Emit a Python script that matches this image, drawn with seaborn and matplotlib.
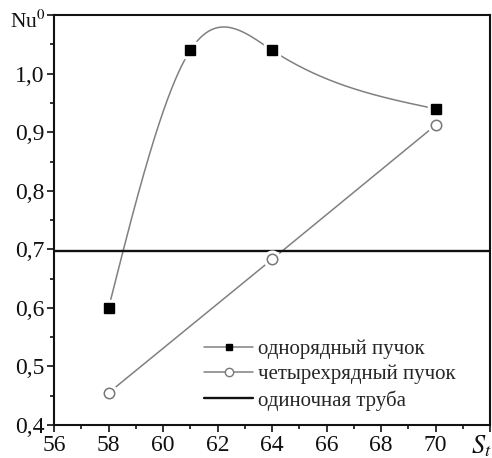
import numpy as np
import pandas as pd
import matplotlib
matplotlib.use("Agg")
import matplotlib.pyplot as plt
from matplotlib.ticker import MultipleLocator, FuncFormatter
from matplotlib.lines import Line2D
import seaborn as sns

# Data: transverse pitch S_t vs relative Nusselt number
st_single = [58, 61, 64, 70]
nu_single = [0.60, 1.04, 1.04, 0.94]
st_four = [58, 64, 70]
nu_four = [0.455, 0.683, 0.912]
nu_tube = 0.697

labels = ["однорядный пучок", "четырехрядный пучок", "одиночная труба"]


def natural_spline(x, y, xs):
    """Natural cubic spline through (x, y), evaluated at xs."""
    x = np.asarray(x, float)
    y = np.asarray(y, float)
    n = len(x)
    h = np.diff(x)
    A = np.zeros((n, n))
    b = np.zeros(n)
    A[0, 0] = A[-1, -1] = 1.0
    for i in range(1, n - 1):
        A[i, i - 1] = h[i - 1]
        A[i, i] = 2 * (h[i - 1] + h[i])
        A[i, i + 1] = h[i]
        b[i] = 6 * ((y[i + 1] - y[i]) / h[i] - (y[i] - y[i - 1]) / h[i - 1])
    M = np.linalg.solve(A, b)
    idx = np.clip(np.searchsorted(x, xs) - 1, 0, n - 2)
    x0, x1 = x[idx], x[idx + 1]
    hh = x1 - x0
    t0 = x1 - xs
    t1 = xs - x0
    return (M[idx] * t0 ** 3 / (6 * hh) + M[idx + 1] * t1 ** 3 / (6 * hh)
            + (y[idx] / hh - M[idx] * hh / 6) * t0
            + (y[idx + 1] / hh - M[idx + 1] * hh / 6) * t1)


sns.set_style("ticks")
plt.rcParams["font.family"] = ["Liberation Serif", "DejaVu Serif"]
plt.rcParams["mathtext.fontset"] = "stix"

fig = plt.figure(figsize=(4.92, 4.58), dpi=100)
ax = fig.add_axes([0.110, 0.072, 0.886, 0.895])

line_grey = "#808080"

# Smooth spline through the single-row points
xs = np.linspace(st_single[0], st_single[-1], 400)
ax.plot(xs, natural_spline(st_single, nu_single, xs), color=line_grey, lw=1.1, zorder=2)

# Four-row bundle: straight segments
df4 = pd.DataFrame({"S": st_four, "Nu": nu_four})
sns.lineplot(data=df4, x="S", y="Nu", ax=ax, color=line_grey, lw=1.1,
             zorder=2, legend=False)

# Single tube reference level
ax.axhline(nu_tube, color="#111111", lw=1.7, zorder=2)

# Markers with a white halo so the lines break around them
ax.plot(st_single, nu_single, ls="none", marker="s", ms=12, color="white", zorder=3)
ax.plot(st_single, nu_single, ls="none", marker="s", ms=7, color="black", zorder=4)
ax.plot(st_four, nu_four, ls="none", marker="o", ms=12, color="white", zorder=3)
ax.plot(st_four, nu_four, ls="none", marker="o", ms=7.5, mfc="white",
        mec="#777777", mew=1.1, zorder=4)

ax.set_xlim(56, 72)
ax.set_ylim(0.4, 1.1)
ax.xaxis.set_major_locator(MultipleLocator(2))
ax.xaxis.set_minor_locator(MultipleLocator(1))
ax.yaxis.set_major_locator(MultipleLocator(0.1))
ax.yaxis.set_minor_locator(MultipleLocator(0.05))


def xfmt(v, pos):
    if abs(v - 72) < 1e-6:
        return ""
    return f"{v:.0f}"


def yfmt(v, pos):
    if abs(v - 1.1) < 1e-6:
        return ""
    return f"{v:.1f}".replace(".", ",")


ax.xaxis.set_major_formatter(FuncFormatter(xfmt))
ax.yaxis.set_major_formatter(FuncFormatter(yfmt))
ax.tick_params(axis="both", which="major", direction="out", length=5,
               width=1.2, labelsize=17, pad=2, colors="#111111")
ax.tick_params(axis="both", which="minor", direction="out", length=3, width=1.2,
               colors="#111111")
ax.tick_params(top=False, right=False, which="both")
for s in ax.spines.values():
    s.set_linewidth(1.5)
    s.set_color("#111111")

ax.set_xlabel("")
ax.set_ylabel("")
ax.text(0.98, -0.052, r"$S_t$", ha="center", va="center", fontsize=19,
        transform=ax.transAxes, clip_on=False, color="#111111")
ax.text(-0.02, 0.985, r"Nu$^0$", ha="right", va="center", fontsize=15.5,
        transform=ax.transAxes, clip_on=False, color="#111111")

handles = [
    Line2D([], [], color=line_grey, lw=1.1, marker="s", ms=5, mfc="black", mec="black"),
    Line2D([], [], color=line_grey, lw=1.1, marker="o", ms=6, mfc="white", mec="#777777"),
    Line2D([], [], color="#111111", lw=1.7),
]
ax.legend(handles, labels, loc="lower left", bbox_to_anchor=(0.325, 0.015),
          frameon=False, fontsize=15, handlelength=2.35, handletextpad=0.25,
          labelspacing=0.27, borderaxespad=0)

fig.savefig("out.png", dpi=100, facecolor="white")
